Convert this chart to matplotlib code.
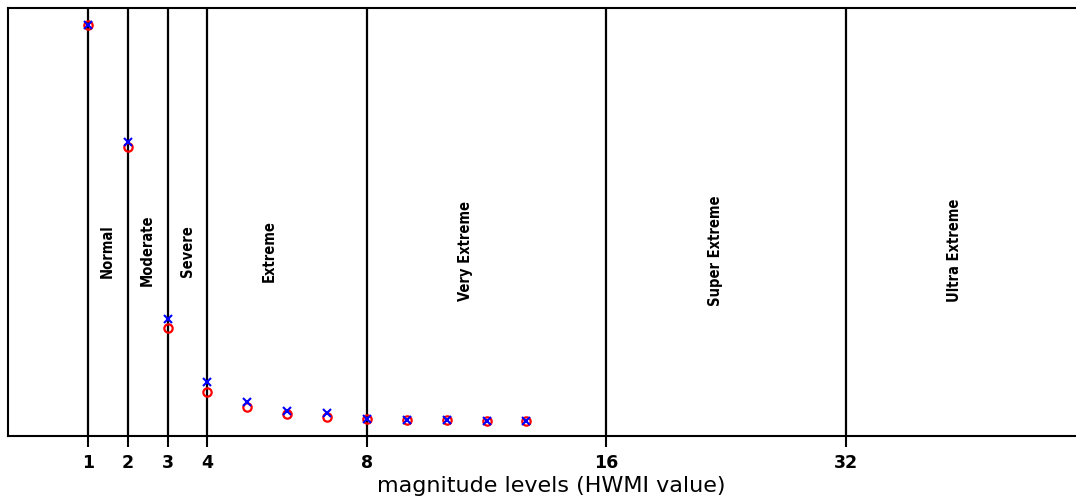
import matplotlib
matplotlib.use("Agg")
import matplotlib.pyplot as plt
from matplotlib import font_manager

# magnitude classes along the x axis (plot position -> HWMI value)
tick_pos = [1, 2, 3, 4, 8, 14, 20]
tick_labels = ["1", "2", "3", "4", "8", "16", "32"]

class_names = ["Normal", "Moderate", "Severe", "Extreme",
               "Very Extreme", "Super Extreme", "Ultra Extreme"]
class_x = [1.48, 2.48, 3.49, 5.54, 10.46, 16.73, 22.73]

# relative frequency for each integer HWMI value, two data sets
hwmi = [1, 2, 3, 4, 5, 6, 7, 8, 9, 10, 11, 12]
freq_blue = [1.0, 0.705, 0.258, 0.099, 0.047, 0.025, 0.019, 0.005, 0.002, 0.002, 0.001, 0.0]
freq_red = [1.0, 0.693, 0.236, 0.074, 0.035, 0.018, 0.011, 0.005, 0.002, 0.0015, 0.001, 0.0]

names = {f.name for f in font_manager.fontManager.ttflist}
narrow = "Liberation Sans Narrow" if "Liberation Sans Narrow" in names else "DejaVu Sans"

fig = plt.figure(figsize=(10.76, 5.0), dpi=100)
ax = fig.add_axes([8 / 1076, 64 / 500, 1.01, 428 / 500])

for p in tick_pos:
    ax.axvline(p, color="black", lw=1.6, zorder=1)

ax.plot(hwmi, freq_red, linestyle="none", marker="o", ms=6, mfc="none",
        mec="red", mew=1.6, zorder=3)
ax.plot(hwmi, freq_blue, linestyle="none", marker="x", ms=6, color="blue",
        mew=1.5, zorder=4)

for name, x in zip(class_names, class_x):
    ax.text(x, 0.43, name, rotation=90, ha="center", va="center",
            fontsize=10.5, family=narrow, fontweight="bold", stretch="condensed")

ax.set_xlim(-1.0, 26.25)
ax.set_ylim(-0.038, 1.043)
ax.set_yticks([])
ax.set_xticks(tick_pos)
ax.set_xticklabels(tick_labels, fontweight="bold", fontsize=12.5)
ax.tick_params(axis="x", direction="out", length=8, width=1.5, pad=5)
ax.set_xlabel("magnitude levels (HWMI value)", fontsize=16, labelpad=3)

for side in ["left", "top", "bottom"]:
    ax.spines[side].set_linewidth(1.5)
ax.spines["right"].set_visible(False)

fig.savefig("out.png", dpi=100)
